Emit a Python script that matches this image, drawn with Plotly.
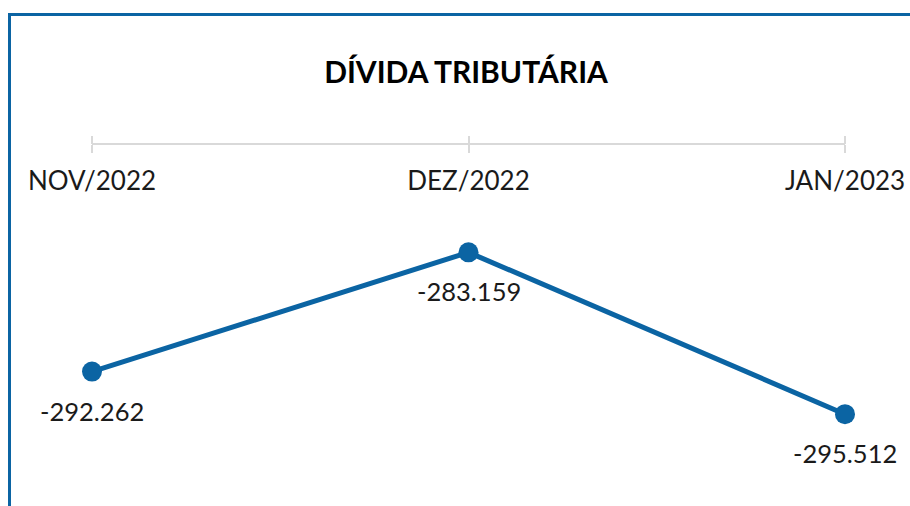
import plotly.graph_objects as go

categories = ["NOV/2022", "DEZ/2022", "JAN/2023"]
values = [-292262, -283159, -295512]
title_text = "DÍVIDA TRIBUTÁRIA"

BLUE = "#0B64A3"
GREY = "#D9D9D9"
FONT = "Lato"
W, H = 910, 506

xs = list(range(len(categories)))


def fmt(v):
    return f"{v:,}".replace(",", ".")


fig = go.Figure()
fig.add_trace(go.Scatter(
    x=xs, y=values, mode="lines+markers",
    line=dict(color=BLUE, width=5),
    marker=dict(color=BLUE, size=20),
    cliponaxis=False,
    hoverinfo="skip", showlegend=False,
))
# invisible trace to activate the overlaying x axis (upward tick marks)
fig.add_trace(go.Scatter(
    x=xs, y=values, xaxis="x2", mode="lines",
    line=dict(width=0), opacity=0, hoverinfo="skip", showlegend=False,
))

for x, v in zip(xs, values):
    fig.add_annotation(x=x, y=v, text=fmt(v), showarrow=False, yshift=-39,
                       font=dict(family=FONT, size=25.5, color="#1a1a1a"))

dom = [92 / W, 845 / W]
axis_pos = (H - 143.5) / H

fig.update_layout(
    width=W, height=H,
    margin=dict(l=0, r=0, t=0, b=0, autoexpand=False),
    paper_bgcolor="white", plot_bgcolor="rgba(0,0,0,0)",
    title=dict(text=f"<b>{title_text}</b>", x=466 / W, xanchor="center",
               y=1 - 72 / H, yanchor="middle", yref="container",
               font=dict(family=FONT, size=30, color="black")),
    xaxis=dict(domain=dom, range=[0, 2], tickvals=xs, ticktext=categories,
               anchor="free", position=axis_pos, side="bottom",
               showline=True, linecolor=GREY, linewidth=2,
               ticks="outside", ticklen=8, tickwidth=2, tickcolor=GREY,
               ticklabelstandoff=6, automargin=False,
               showgrid=False, zeroline=False, fixedrange=True,
               tickfont=dict(family=FONT, size=26, color="#1a1a1a")),
    xaxis2=dict(range=[0, 2], tickvals=xs, overlaying="x",
                anchor="free", position=axis_pos, side="top",
                showline=False, showticklabels=False, automargin=False,
                ticks="outside", ticklen=8, tickwidth=2, tickcolor=GREY,
                showgrid=False, zeroline=False, fixedrange=True),
    yaxis=dict(domain=[0, axis_pos], range=[-302527, -274847],
               visible=False, fixedrange=True, automargin=False),
    shapes=[
        dict(type="line", xref="paper", yref="paper",
             x0=9.5 / W, x1=1.01, y0=1 - 14.5 / H, y1=1 - 14.5 / H,
             line=dict(color=BLUE, width=3)),
        dict(type="line", xref="paper", yref="paper",
             x0=9.5 / W, x1=9.5 / W, y0=-0.05, y1=1 - 13 / H,
             line=dict(color=BLUE, width=3)),
    ],
)

fig.write_html("out.html")
